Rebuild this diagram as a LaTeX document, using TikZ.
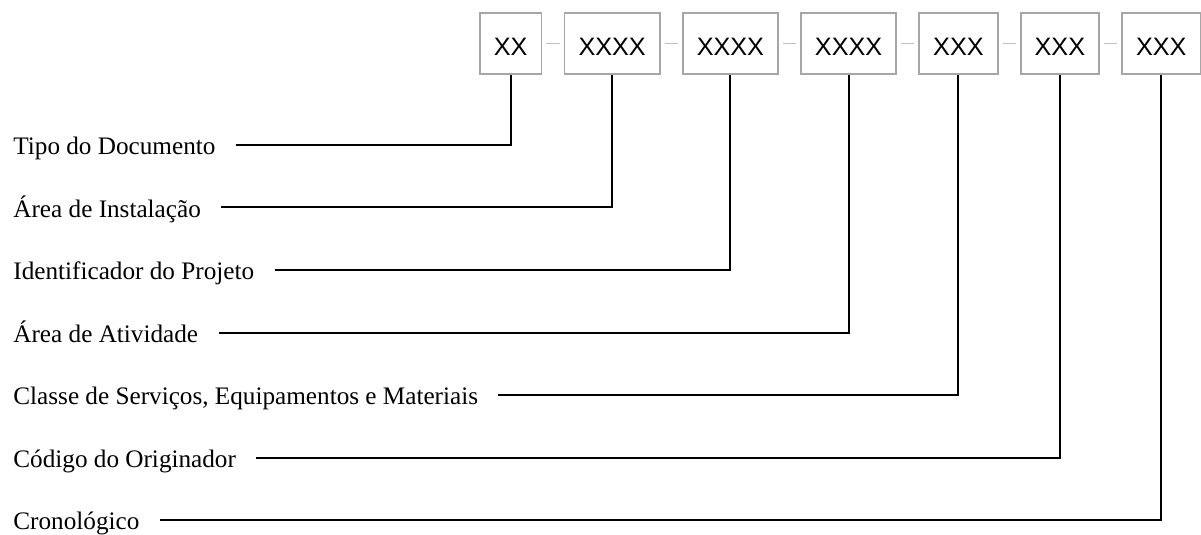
\documentclass[tikz,border=0pt]{standalone}
\usepackage{fontspec}
\setmainfont{Liberation Serif}
\setsansfont{Liberation Sans}
\usetikzlibrary{positioning}

\definecolor{boxgray}{HTML}{A6A6A6}
\definecolor{sepgray}{HTML}{BFBFBF}

\begin{document}
\begin{tikzpicture}[
        x=0.5pt, y=-0.5pt,
        field/.style={draw=boxgray, line width=0.9pt, fill=white, inner xsep=7pt, inner ysep=0pt,
            minimum height=30.5pt, text height=11.8pt, text depth=0pt, font=\sffamily\fontsize{12.6}{15}\selectfont},
        lbl/.style={anchor=west, inner xsep=10pt, inner ysep=0pt, text height=9.8pt, text depth=0pt,
            font=\rmfamily\fontsize{12.6}{15}\selectfont},
        sep/.style={draw=sepgray, line width=0.8pt, shorten <=2pt, shorten >=2pt},
        conn/.style={draw=black, line width=1pt}
    ]

    \useasboundingbox (0,0) rectangle (1201,535);

    % Code fields
    \node[field, anchor=west] (tipo) at (479,43.5) {XX};
    \node[field, right=10.6pt of tipo] (inst) {XXXX};
    \node[field, right=10.6pt of inst] (proj) {XXXX};
    \node[field, right=10.6pt of proj] (ativ) {XXXX};
    \node[field, right=10.6pt of ativ] (classe) {XXX};
    \node[field, right=10.6pt of classe] (orig) {XXX};
    \node[field, right=10.6pt of orig] (crono) {XXX};

    % Separators
    \draw[sep] (tipo) -- (inst);
    \draw[sep] (inst) -- (proj);
    \draw[sep] (proj) -- (ativ);
    \draw[sep] (ativ) -- (classe);
    \draw[sep] (classe) -- (orig);
    \draw[sep] (orig) -- (crono);

    % Descriptions
    \node[lbl] (tipoL) at (-7,145) {Tipo do Documento};
    \node[lbl] (instL) at (-7,207.5) {Área de Instalação};
    \node[lbl] (projL) at (-7,270) {Identificador do Projeto};
    \node[lbl] (ativL) at (-7,332.5) {Área de Atividade};
    \node[lbl] (classeL) at (-7,395) {Classe de Serviços, Equipamentos e Materiais};
    \node[lbl] (origL) at (-7,457.5) {Código do Originador};
    \node[lbl] (cronoL) at (-7,520) {Cronológico};

    % Leader lines
    \foreach \f in {tipo, inst, proj, ativ, classe, orig, crono}
        \draw[conn] (\f L.east) -| (\f.south);

\end{tikzpicture}
\end{document}
